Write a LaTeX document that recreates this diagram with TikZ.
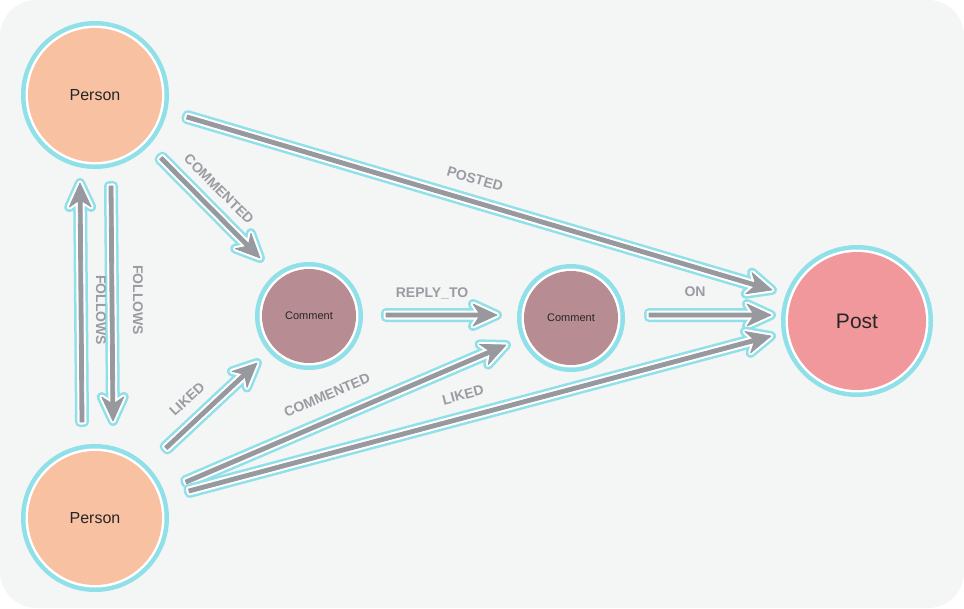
\documentclass[tikz,border=0pt]{standalone}
\usepackage{fontspec}
\setmainfont{Liberation Sans}
\usetikzlibrary{calc}
\definecolor{bgc}{HTML}{F4F5F5}
\definecolor{halo}{HTML}{8FE0E8}
\definecolor{edgec}{HTML}{97999F}
\definecolor{lbl}{HTML}{9A9CA2}
\definecolor{personc}{HTML}{F8C1A2}
\definecolor{commentc}{HTML}{B78C93}
\definecolor{postc}{HTML}{F0989B}
\tikzset{
  x=1pt,y=-1pt,
  hl/.style={draw=halo,line width=10pt,line join=round},
  wh/.style={draw=white,fill=white,line width=5pt,line join=round},
  core/.style={fill=edgec,draw=edgec,line width=0.8pt,line join=round},
  lab/.style={text=lbl,font=\bfseries\fontsize{14}{15}\selectfont,inner sep=1pt}
}
\newcommand\arrpoly[3]{\path[#3] let \p1=($(#2)-(#1)$), \n1={atan2(\y1,\x1)}, \n2={veclen(\x1,\y1)} in
  [shift={(#1)},rotate=\n1,x=1pt,y=1pt] (0,-2) -- (\n2-18,-2) -- (\n2-24,-11) -- (\n2,0) -- (\n2-24,11) -- (\n2-18,2) -- (0,2) -- cycle;}
\newcommand\relarr[2]{\arrpoly{#1}{#2}{hl}\arrpoly{#1}{#2}{wh}\arrpoly{#1}{#2}{core}}
\begin{document}
\begin{tikzpicture}
\useasboundingbox (0,0) rectangle (964,608);
\fill[bgc,rounded corners=36pt] (0,0) rectangle (964,608);
\foreach \n/\x/\y/\r/\c/\t/\s in {p1/95/95/67/personc/Person/16, p2/95/518/67/personc/Person/16,
  c1/309/316/47/commentc/Comment/11, c2/571/318/47/commentc/Comment/11, po/857/321/69/postc/Post/21}{
  \fill[halo] (\x,\y) circle (\r+7);
  \fill[white] (\x,\y) circle (\r+2.5);
  \node[circle,fill=\c,minimum size=2*\r pt,inner sep=0pt,text=black!85,font=\fontsize{\s}{\s}\selectfont] (\n) at (\x,\y) {\t};
}
\coordinate (a1) at (187,117); \coordinate (a2) at (772,290);
\coordinate (b1) at (161,158); \coordinate (b2) at (260,258);
\coordinate (f1) at (82,422); \coordinate (f2) at (80,183);
\coordinate (g1) at (111,186); \coordinate (g2) at (113,421);
\coordinate (l1) at (166,448); \coordinate (l2) at (257,363);
\coordinate (r1) at (386,315); \coordinate (r2) at (497,315);
\coordinate (m1) at (186,482); \coordinate (m2) at (506,345);
\coordinate (o1) at (649,315); \coordinate (o2) at (771,315);
\coordinate (k1) at (189,491); \coordinate (k2) at (771,336);
\relarr{a1}{a2}\relarr{b1}{b2}\relarr{f1}{f2}\relarr{g1}{g2}\relarr{l1}{l2}
\relarr{r1}{r2}\relarr{m1}{m2}\relarr{o1}{o2}\relarr{k1}{k2}
\node[lab,rotate=-16.4] (t1) at (475,179) {POSTED};
\node[lab,rotate=-45] (t2) at (219,189) {COMMENTED};
\node[lab,rotate=-90] (t3) at (101,310) {FOLLOWS};
\node[lab,rotate=-90] (t4) at (138,300) {FOLLOWS};
\node[lab,rotate=43] (t5) at (187,399) {LIKED};
\node[lab] (t6) at (432,293) {REPLY\_TO};
\node[lab,rotate=23] (t7) at (327,395) {COMMENTED};
\node[lab] (t8) at (695,292) {ON};
\node[lab,rotate=15] (t9) at (463,395) {LIKED};
\end{tikzpicture}
\end{document}
